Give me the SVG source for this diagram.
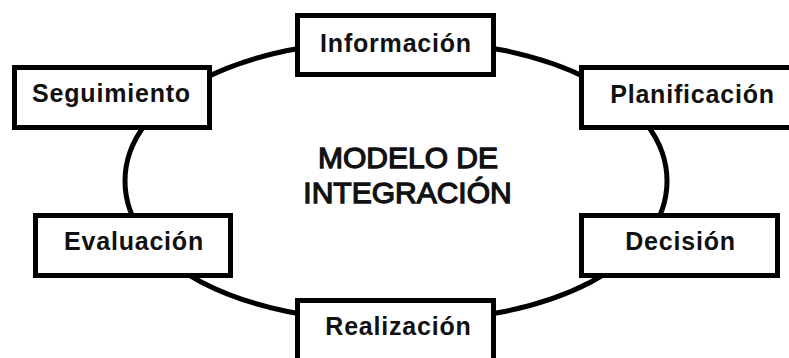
<svg xmlns="http://www.w3.org/2000/svg" width="789" height="358" viewBox="0 0 789 358">
  <style>
    .box { fill: #ffffff; stroke: #000000; stroke-width: 5; }
    .lbl { font-family: "Liberation Sans", Arial, sans-serif; font-weight: bold; font-size: 25px; letter-spacing: 0.8px; fill: #111111; text-anchor: middle; }
    .title { font-family: "Liberation Sans", Arial, sans-serif; font-weight: normal; font-size: 30px; fill: #111111; stroke: #111111; stroke-width: 1.3; text-anchor: middle; }
    .ring { fill: none; stroke: #000000; stroke-width: 5; }
  </style>
  <rect x="0" y="0" width="789" height="358" fill="#ffffff"/>
  <g id="connectors">
    <path class="ring" d="M 667,181 C 667,262.8 553.2,322 396,322 C 238.8,322 125,262.8 125,181 C 125,99.2 238.8,40 396,40 C 553.2,40 667,99.2 667,181 Z"/>
  </g>
  <g id="center-label">
    <text class="title" x="408" y="168">MODELO DE</text>
    <text class="title" x="407.5" y="203">INTEGRACIÓN</text>
  </g>
  <g id="informacion">
    <rect class="box" x="297.5" y="15.5" width="196" height="59"/>
    <text class="lbl" x="396" y="52">Información</text>
  </g>
  <g id="seguimiento">
    <rect class="box" x="14.5" y="67.5" width="195" height="60"/>
    <text class="lbl" x="111.5" y="102">Seguimiento</text>
  </g>
  <g id="planificacion">
    <rect class="box" x="581.5" y="67.5" width="220" height="60"/>
    <text class="lbl" x="692.5" y="103">Planificación</text>
  </g>
  <g id="evaluacion">
    <rect class="box" x="35.5" y="215.5" width="195" height="60"/>
    <text class="lbl" x="134" y="250">Evaluación</text>
  </g>
  <g id="decision">
    <rect class="box" x="581.5" y="215.5" width="196" height="60"/>
    <text class="lbl" x="680.5" y="250">Decisión</text>
  </g>
  <g id="realizacion">
    <rect class="box" x="297.5" y="300.5" width="196" height="65"/>
    <text class="lbl" x="398.5" y="335">Realización</text>
  </g>
</svg>
